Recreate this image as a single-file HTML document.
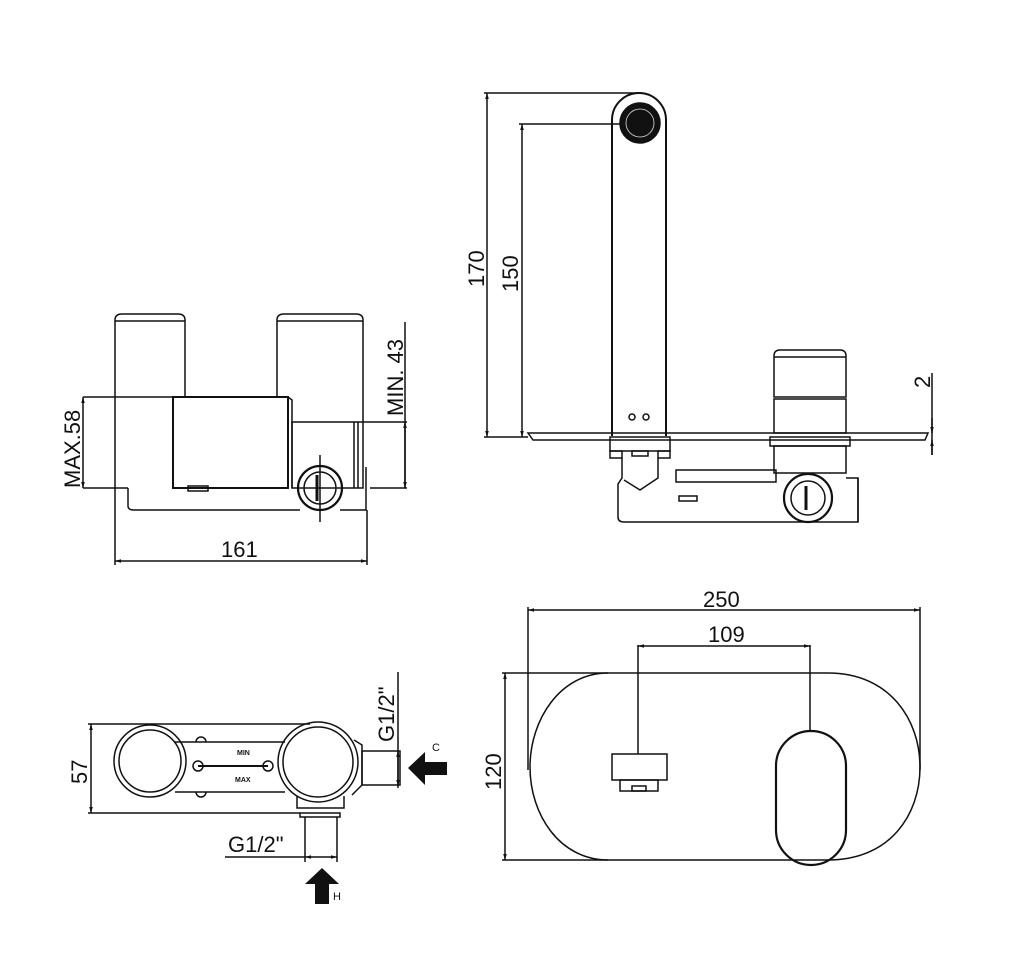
<!DOCTYPE html>
<html><head><style>html,body{margin:0;padding:0;background:#fff}svg{display:block}text{font-family:"Liberation Sans",sans-serif;fill:#111}</style></head>
<body>
<svg width="1024" height="957" viewBox="0 0 1024 957" xmlns="http://www.w3.org/2000/svg">
<defs>
<marker id="a" viewBox="0 0 10 10" refX="10" refY="5" markerWidth="7" markerHeight="4" orient="auto-start-reverse"><path d="M0,2 L10,5 L0,8z" fill="#111"/></marker>
</defs>
<g fill="none" stroke="#111" stroke-width="1.5">
<path d="M115,488 V320 Q115,314 122,314 H178 Q185,314 185,320 V397"/>
<path d="M277,397 V320 Q277,314 284,314 H356 Q363,314 363,320 V422"/>
<line x1="115" y1="321" x2="185" y2="321"/><line x1="277" y1="321" x2="363" y2="321"/>
<rect x="173" y="397" width="115" height="91" stroke-width="2"/>
<path d="M288,397 L292,400 V488"/>
<rect x="292" y="422" width="71" height="66"/>
<line x1="354" y1="422" x2="354" y2="488"/><line x1="358" y1="422" x2="358" y2="488"/>
<path d="M366,467 V510 H340"/>
<path d="M128,488 V506 Q128,510 134,510 H300"/>
<rect x="188" y="486" width="20" height="5"/>
<circle cx="320" cy="488" r="22" stroke-width="2.2"/><circle cx="320" cy="488" r="16"/>
<line x1="320" y1="455" x2="320" y2="522"/><line x1="317" y1="475" x2="317" y2="501" stroke-width="3"/>
<line x1="83" y1="397" x2="173" y2="397"/><line x1="83" y1="488" x2="128" y2="488"/>
<line x1="83" y1="397" x2="83" y2="488" marker-start="url(#a)" marker-end="url(#a)"/>
<line x1="363" y1="422" x2="407" y2="422"/><line x1="370" y1="488" x2="407" y2="488"/>
<line x1="405" y1="322" x2="405" y2="488"/>
<line x1="405" y1="422" x2="405" y2="488" marker-start="url(#a)" marker-end="url(#a)"/>
<line x1="115" y1="488" x2="115" y2="565"/><line x1="367" y1="510" x2="367" y2="565"/>
<line x1="115" y1="561" x2="367" y2="561" marker-start="url(#a)" marker-end="url(#a)"/>
<path d="M612,436 V120 A27,27 0 0 1 666,120 V436" stroke-width="2"/>
<circle cx="640" cy="123" r="20" fill="#111"/><circle cx="640" cy="123" r="14" stroke="#ddd" stroke-width="0.8"/>
<circle cx="632" cy="417" r="3"/><circle cx="646" cy="417" r="3"/>
<path d="M528,433 H928 L925,440 H533z"/>
<line x1="484" y1="93" x2="639" y2="93"/><line x1="519" y1="124" x2="620" y2="124"/>
<line x1="484" y1="437" x2="528" y2="437"/>
<line x1="487" y1="93" x2="487" y2="437" marker-start="url(#a)" marker-end="url(#a)"/>
<line x1="522" y1="124" x2="522" y2="437" marker-start="url(#a)" marker-end="url(#a)"/>
<path d="M774,397 V356 Q774,350 780,350 H840 Q846,350 846,356 V397z"/><line x1="774" y1="357" x2="846" y2="357"/>
<rect x="774" y="399" width="72" height="34"/>
<rect x="770" y="437" width="80" height="9"/>
<rect x="774" y="446" width="72" height="27"/>
<rect x="610" y="437" width="60" height="14"/>
<rect x="610" y="451" width="12" height="7"/><rect x="658" y="451" width="12" height="7"/><rect x="632" y="451" width="16" height="5"/>
<path d="M622,458 V478 L618,484 V517 Q618,522 624,522 H858 V478 H846"/>
<path d="M658,458 V478 L640,490 L624,480"/>
<rect x="676" y="470" width="100" height="12"/>
<rect x="679" y="496" width="18" height="5"/>
<circle cx="808" cy="498" r="24" stroke-width="2.2"/><circle cx="808" cy="498" r="17"/>
<line x1="806" y1="486" x2="806" y2="510" stroke-width="3"/>
<line x1="858" y1="478" x2="858" y2="522"/>
<line x1="932" y1="373" x2="932" y2="455"/>
<line x1="932" y1="418" x2="932" y2="433" marker-end="url(#a)"/><line x1="932" y1="455" x2="932" y2="440" marker-end="url(#a)"/>
<line x1="528" y1="607" x2="528" y2="770"/><line x1="920" y1="607" x2="920" y2="770"/>
<line x1="528" y1="610" x2="920" y2="610" marker-start="url(#a)" marker-end="url(#a)"/>
<line x1="638" y1="645" x2="638" y2="754"/><line x1="810" y1="645" x2="810" y2="730"/>
<line x1="638" y1="646" x2="810" y2="646" marker-start="url(#a)" marker-end="url(#a)"/>
<path d="M608,673 H828 C890,673 920,720 920,767 C920,815 890,860 828,860 H608 C560,860 530,815 530,767 C530,720 560,673 608,673z"/>
<line x1="502" y1="673" x2="608" y2="673"/><line x1="502" y1="860" x2="608" y2="860"/>
<line x1="505" y1="673" x2="505" y2="860" marker-start="url(#a)" marker-end="url(#a)"/>
<rect x="612" y="754" width="55" height="26"/><rect x="620" y="780" width="38" height="11"/><rect x="632" y="786" width="14" height="5"/>
<path d="M776,766 A35,35 0 0 1 846,766 V830 A35,35 0 0 1 776,830z" stroke-width="2.2"/>
<line x1="88" y1="724" x2="310" y2="724"/><line x1="88" y1="813" x2="300" y2="813"/>
<line x1="91" y1="724" x2="91" y2="813" marker-start="url(#a)" marker-end="url(#a)"/>
<circle cx="150" cy="761" r="36"/><circle cx="150" cy="761" r="31"/>
<line x1="175" y1="742" x2="285" y2="742"/><line x1="175" y1="792" x2="285" y2="792"/>
<line x1="198" y1="766" x2="268" y2="766" stroke-width="2"/>
<circle cx="198" cy="766" r="5"/><circle cx="268" cy="766" r="5"/>
<path d="M196,742 a5,5 0 0 1 10,0"/><path d="M196,792 a5,5 0 0 0 10,0"/>
<circle cx="318" cy="762" r="40"/><circle cx="318" cy="762" r="35"/>
<path d="M354,740 L362,745 V785 L352,795"/>
<rect x="362" y="751" width="38" height="34"/>
<path d="M297,796 V808 H344 V796"/>
<rect x="300" y="813" width="40" height="4"/>
<line x1="305" y1="817" x2="305" y2="862"/><line x1="337" y1="817" x2="337" y2="862"/>
<line x1="225" y1="857" x2="305" y2="857"/>
<line x1="305" y1="857" x2="337" y2="857" marker-start="url(#a)" marker-end="url(#a)"/>
<line x1="398" y1="672" x2="398" y2="788"/>
<line x1="398" y1="751" x2="398" y2="786" marker-start="url(#a)" marker-end="url(#a)"/>
</g>
<path d="M408,768 L425,752 V762 H447 V775 H425 V785z" fill="#111"/>
<path d="M322,868 L339,884 H329 V904 H315 V884 H305z" fill="#111"/>
<text x="432" y="751" font-size="11">C</text>
<text x="333" y="900" font-size="11">H</text>
<text x="237" y="755" font-size="7" font-weight="bold">MIN</text>
<text x="235" y="782" font-size="7" font-weight="bold">MAX</text>
<g font-size="22">
<text x="221" y="557">161</text>
<text transform="translate(80,488) rotate(-90)">MAX.58</text>
<text transform="translate(403,416) rotate(-90)">MIN. 43</text>
<text transform="translate(484,287) rotate(-90)">170</text>
<text transform="translate(518,292) rotate(-90)">150</text>
<text transform="translate(930,388) rotate(-90)">2</text>
<text x="703" y="607">250</text>
<text x="708" y="642">109</text>
<text transform="translate(501,790) rotate(-90)">120</text>
<text transform="translate(87,784) rotate(-90)">57</text>
<text x="228" y="852">G1/2"</text>
<text transform="translate(394,742) rotate(-90)">G1/2"</text>
</g>
</svg>
</body></html>
